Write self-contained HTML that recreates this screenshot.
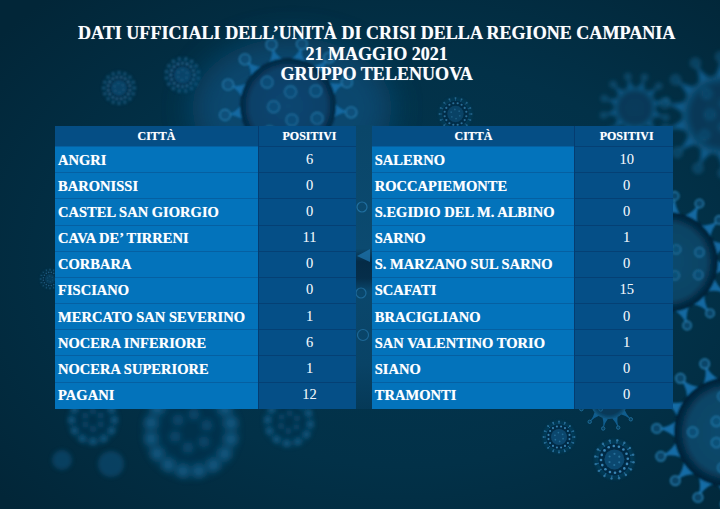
<!DOCTYPE html>
<html><head><meta charset="utf-8">
<style>
html,body{margin:0;padding:0;overflow:hidden;}
html{width:720px;height:509px;}
body{width:720px;height:509px;overflow:hidden;position:relative;background:#03304a;font-family:"Liberation Serif",serif;color:#fff;}
#bg{position:absolute;left:0;top:0;}
.title{position:absolute;left:33.3px;top:23.3px;width:686.7px;text-align:center;font-weight:bold;font-size:18.07px;line-height:20.6px;white-space:nowrap;color:#fdfeff;}
.title div{height:20.6px;}
.f,.l,.v,.h,.c,.n{position:absolute;}
.h,.c,.title{text-shadow:0 0 0.7px rgba(255,255,255,0.55);}
.n{text-shadow:0 0 0.6px rgba(255,255,255,0.35);}
.hd{background:#054e85;}
.ct{background:#0373bb;}
.nm{background:#054f87;}
.l{height:1px;}
.lc{background:#0560a2;}
.ln{background:#054074;}
.v{width:1px;background:#053c70;}
.h{height:21px;line-height:21.6px;text-align:center;font-weight:bold;font-size:12px;white-space:nowrap;}
.c{height:26px;line-height:26.2px;font-weight:bold;font-size:14.55px;white-space:nowrap;}
.n{width:80px;height:26px;line-height:24.0px;text-align:center;font-size:14.5px;white-space:nowrap;color:#eef4fa;}
</style></head><body>
<svg id="bg" width="720" height="509" viewBox="0 0 720 509"><defs>
<filter id="b1" x="-50%" y="-50%" width="200%" height="200%"><feGaussianBlur stdDeviation="0.5"/></filter>
<filter id="b2" x="-50%" y="-50%" width="200%" height="200%"><feGaussianBlur stdDeviation="1.0"/></filter>
<filter id="b3" x="-50%" y="-50%" width="200%" height="200%"><feGaussianBlur stdDeviation="1.5"/></filter>
<filter id="b4" x="-50%" y="-50%" width="200%" height="200%"><feGaussianBlur stdDeviation="2.0"/></filter>
<filter id="b6" x="-50%" y="-50%" width="200%" height="200%"><feGaussianBlur stdDeviation="3.0"/></filter>
<filter id="b8" x="-50%" y="-50%" width="200%" height="200%"><feGaussianBlur stdDeviation="4.0"/></filter>
<filter id="b12" x="-50%" y="-50%" width="200%" height="200%"><feGaussianBlur stdDeviation="6.0"/></filter>
<filter id="b20" x="-50%" y="-50%" width="200%" height="200%"><feGaussianBlur stdDeviation="10.0"/></filter>
<filter id="b30" x="-50%" y="-50%" width="200%" height="200%"><feGaussianBlur stdDeviation="15.0"/></filter>
<filter id="b40" x="-50%" y="-50%" width="200%" height="200%"><feGaussianBlur stdDeviation="20.0"/></filter>
<radialGradient id="bgg" cx="56%" cy="52%" r="72%"><stop offset="0" stop-color="#03364f"/><stop offset="0.55" stop-color="#023148"/><stop offset="1" stop-color="#022638"/></radialGradient>
<radialGradient id="g1" cx="50%" cy="50%" r="50%"><stop offset="0" stop-color="#0b4672"/><stop offset="0.78" stop-color="#0a4068"/><stop offset="0.9" stop-color="#062c4a"/><stop offset="1" stop-color="#042238"/></radialGradient>
<radialGradient id="g2" cx="50%" cy="50%" r="50%"><stop offset="0" stop-color="#0b4166"/><stop offset="0.75" stop-color="#0a3d60"/><stop offset="0.95" stop-color="#145f8e"/><stop offset="1" stop-color="#1a6c9e"/></radialGradient>
<radialGradient id="g3" cx="50%" cy="50%" r="50%"><stop offset="0" stop-color="#0b4e72"/><stop offset="0.75" stop-color="#0a4668"/><stop offset="0.9" stop-color="#052a44"/><stop offset="1" stop-color="#031e33"/></radialGradient>
<radialGradient id="g4" cx="50%" cy="50%" r="50%"><stop offset="0" stop-color="#073250"/><stop offset="0.8" stop-color="#062c48"/><stop offset="0.94" stop-color="#052640"/><stop offset="1" stop-color="#11507a"/></radialGradient>
<linearGradient id="gap" x1="0" y1="0" x2="0" y2="1"><stop offset="0.08" stop-color="#0a4669"/><stop offset="0.45" stop-color="#0b4a70"/><stop offset="0.49" stop-color="#052b46"/><stop offset="0.54" stop-color="#062e4a"/><stop offset="0.58" stop-color="#0a476c"/><stop offset="0.8" stop-color="#094366"/><stop offset="0.94" stop-color="#053957"/></linearGradient>
</defs>
<rect width="720" height="509" fill="url(#bgg)"/>
<g opacity="0.7" filter="url(#b2)"><circle cx="119" cy="88" r="16.5" fill="#0f5682" opacity="0.35" filter="url(#b3)"/><line x1="131.9" y1="88.0" x2="135.0" y2="88.0" stroke="#2d7fb3" stroke-width="0.99" opacity="0.7"/><circle cx="135.0" cy="88.0" r="0.99" fill="#3f8fc2" opacity="0.7"/><line x1="130.9" y1="92.9" x2="133.8" y2="94.1" stroke="#2d7fb3" stroke-width="0.99" opacity="0.7"/><circle cx="133.8" cy="94.1" r="0.99" fill="#3f8fc2" opacity="0.7"/><line x1="128.1" y1="97.1" x2="130.3" y2="99.3" stroke="#2d7fb3" stroke-width="0.99" opacity="0.7"/><circle cx="130.3" cy="99.3" r="0.99" fill="#3f8fc2" opacity="0.7"/><line x1="123.9" y1="99.9" x2="125.1" y2="102.8" stroke="#2d7fb3" stroke-width="0.99" opacity="0.7"/><circle cx="125.1" cy="102.8" r="0.99" fill="#3f8fc2" opacity="0.7"/><line x1="119.0" y1="100.9" x2="119.0" y2="104.0" stroke="#2d7fb3" stroke-width="0.99" opacity="0.7"/><circle cx="119.0" cy="104.0" r="0.99" fill="#3f8fc2" opacity="0.7"/><line x1="114.1" y1="99.9" x2="112.9" y2="102.8" stroke="#2d7fb3" stroke-width="0.99" opacity="0.7"/><circle cx="112.9" cy="102.8" r="0.99" fill="#3f8fc2" opacity="0.7"/><line x1="109.9" y1="97.1" x2="107.7" y2="99.3" stroke="#2d7fb3" stroke-width="0.99" opacity="0.7"/><circle cx="107.7" cy="99.3" r="0.99" fill="#3f8fc2" opacity="0.7"/><line x1="107.1" y1="92.9" x2="104.2" y2="94.1" stroke="#2d7fb3" stroke-width="0.99" opacity="0.7"/><circle cx="104.2" cy="94.1" r="0.99" fill="#3f8fc2" opacity="0.7"/><line x1="106.1" y1="88.0" x2="103.0" y2="88.0" stroke="#2d7fb3" stroke-width="0.99" opacity="0.7"/><circle cx="103.0" cy="88.0" r="0.99" fill="#3f8fc2" opacity="0.7"/><line x1="107.1" y1="83.1" x2="104.2" y2="81.9" stroke="#2d7fb3" stroke-width="0.99" opacity="0.7"/><circle cx="104.2" cy="81.9" r="0.99" fill="#3f8fc2" opacity="0.7"/><line x1="109.9" y1="78.9" x2="107.7" y2="76.7" stroke="#2d7fb3" stroke-width="0.99" opacity="0.7"/><circle cx="107.7" cy="76.7" r="0.99" fill="#3f8fc2" opacity="0.7"/><line x1="114.1" y1="76.1" x2="112.9" y2="73.2" stroke="#2d7fb3" stroke-width="0.99" opacity="0.7"/><circle cx="112.9" cy="73.2" r="0.99" fill="#3f8fc2" opacity="0.7"/><line x1="119.0" y1="75.1" x2="119.0" y2="72.0" stroke="#2d7fb3" stroke-width="0.99" opacity="0.7"/><circle cx="119.0" cy="72.0" r="0.99" fill="#3f8fc2" opacity="0.7"/><line x1="123.9" y1="76.1" x2="125.1" y2="73.2" stroke="#2d7fb3" stroke-width="0.99" opacity="0.7"/><circle cx="125.1" cy="73.2" r="0.99" fill="#3f8fc2" opacity="0.7"/><line x1="128.1" y1="78.9" x2="130.3" y2="76.7" stroke="#2d7fb3" stroke-width="0.99" opacity="0.7"/><circle cx="130.3" cy="76.7" r="0.99" fill="#3f8fc2" opacity="0.7"/><line x1="130.9" y1="83.1" x2="133.8" y2="81.9" stroke="#2d7fb3" stroke-width="0.99" opacity="0.7"/><circle cx="133.8" cy="81.9" r="0.99" fill="#3f8fc2" opacity="0.7"/><circle cx="119" cy="88" r="13.2" fill="#052c47"/><circle cx="119" cy="88" r="8.2" fill="#0c4c74"/><circle cx="129.8" cy="90.2" r="1.07" fill="#3f8fc2"/><circle cx="128.2" cy="94.1" r="1.07" fill="#3f8fc2"/><circle cx="125.1" cy="97.2" r="1.07" fill="#3f8fc2"/><circle cx="121.2" cy="98.8" r="1.07" fill="#3f8fc2"/><circle cx="116.8" cy="98.8" r="1.07" fill="#3f8fc2"/><circle cx="112.9" cy="97.2" r="1.07" fill="#3f8fc2"/><circle cx="109.8" cy="94.1" r="1.07" fill="#3f8fc2"/><circle cx="108.2" cy="90.2" r="1.07" fill="#3f8fc2"/><circle cx="108.2" cy="85.8" r="1.07" fill="#3f8fc2"/><circle cx="109.8" cy="81.9" r="1.07" fill="#3f8fc2"/><circle cx="112.9" cy="78.8" r="1.07" fill="#3f8fc2"/><circle cx="116.8" cy="77.2" r="1.07" fill="#3f8fc2"/><circle cx="121.2" cy="77.2" r="1.07" fill="#3f8fc2"/><circle cx="125.1" cy="78.8" r="1.07" fill="#3f8fc2"/><circle cx="128.2" cy="81.9" r="1.07" fill="#3f8fc2"/><circle cx="129.8" cy="85.8" r="1.07" fill="#3f8fc2"/><circle cx="123.3" cy="89.8" r="0.91" fill="#3f8fc2" opacity="0.6"/><circle cx="119.6" cy="92.6" r="0.91" fill="#3f8fc2" opacity="0.6"/><circle cx="115.3" cy="90.8" r="0.91" fill="#3f8fc2" opacity="0.6"/><circle cx="114.7" cy="86.2" r="0.91" fill="#3f8fc2" opacity="0.6"/><circle cx="118.4" cy="83.4" r="0.91" fill="#3f8fc2" opacity="0.6"/><circle cx="122.7" cy="85.2" r="0.91" fill="#3f8fc2" opacity="0.6"/></g>
<g opacity="0.75" filter="url(#b2)"><circle cx="182.5" cy="75" r="17.5" fill="#0f5682" opacity="0.35" filter="url(#b3)"/><line x1="195.9" y1="77.7" x2="199.1" y2="78.4" stroke="#2d7fb3" stroke-width="1.05" opacity="0.7"/><circle cx="199.1" cy="78.4" r="1.05" fill="#3f8fc2" opacity="0.7"/><line x1="193.8" y1="82.6" x2="196.6" y2="84.5" stroke="#2d7fb3" stroke-width="1.05" opacity="0.7"/><circle cx="196.6" cy="84.5" r="1.05" fill="#3f8fc2" opacity="0.7"/><line x1="190.0" y1="86.4" x2="191.9" y2="89.1" stroke="#2d7fb3" stroke-width="1.05" opacity="0.7"/><circle cx="191.9" cy="89.1" r="1.05" fill="#3f8fc2" opacity="0.7"/><line x1="185.1" y1="88.4" x2="185.8" y2="91.7" stroke="#2d7fb3" stroke-width="1.05" opacity="0.7"/><circle cx="185.8" cy="91.7" r="1.05" fill="#3f8fc2" opacity="0.7"/><line x1="179.8" y1="88.4" x2="179.1" y2="91.6" stroke="#2d7fb3" stroke-width="1.05" opacity="0.7"/><circle cx="179.1" cy="91.6" r="1.05" fill="#3f8fc2" opacity="0.7"/><line x1="174.9" y1="86.3" x2="173.0" y2="89.1" stroke="#2d7fb3" stroke-width="1.05" opacity="0.7"/><circle cx="173.0" cy="89.1" r="1.05" fill="#3f8fc2" opacity="0.7"/><line x1="171.1" y1="82.5" x2="168.4" y2="84.4" stroke="#2d7fb3" stroke-width="1.05" opacity="0.7"/><circle cx="168.4" cy="84.4" r="1.05" fill="#3f8fc2" opacity="0.7"/><line x1="169.1" y1="77.6" x2="165.8" y2="78.3" stroke="#2d7fb3" stroke-width="1.05" opacity="0.7"/><circle cx="165.8" cy="78.3" r="1.05" fill="#3f8fc2" opacity="0.7"/><line x1="169.1" y1="72.3" x2="165.9" y2="71.6" stroke="#2d7fb3" stroke-width="1.05" opacity="0.7"/><circle cx="165.9" cy="71.6" r="1.05" fill="#3f8fc2" opacity="0.7"/><line x1="171.2" y1="67.4" x2="168.4" y2="65.5" stroke="#2d7fb3" stroke-width="1.05" opacity="0.7"/><circle cx="168.4" cy="65.5" r="1.05" fill="#3f8fc2" opacity="0.7"/><line x1="175.0" y1="63.6" x2="173.1" y2="60.9" stroke="#2d7fb3" stroke-width="1.05" opacity="0.7"/><circle cx="173.1" cy="60.9" r="1.05" fill="#3f8fc2" opacity="0.7"/><line x1="179.9" y1="61.6" x2="179.2" y2="58.3" stroke="#2d7fb3" stroke-width="1.05" opacity="0.7"/><circle cx="179.2" cy="58.3" r="1.05" fill="#3f8fc2" opacity="0.7"/><line x1="185.2" y1="61.6" x2="185.9" y2="58.4" stroke="#2d7fb3" stroke-width="1.05" opacity="0.7"/><circle cx="185.9" cy="58.4" r="1.05" fill="#3f8fc2" opacity="0.7"/><line x1="190.1" y1="63.7" x2="192.0" y2="60.9" stroke="#2d7fb3" stroke-width="1.05" opacity="0.7"/><circle cx="192.0" cy="60.9" r="1.05" fill="#3f8fc2" opacity="0.7"/><line x1="193.9" y1="67.5" x2="196.6" y2="65.6" stroke="#2d7fb3" stroke-width="1.05" opacity="0.7"/><circle cx="196.6" cy="65.6" r="1.05" fill="#3f8fc2" opacity="0.7"/><line x1="195.9" y1="72.4" x2="199.2" y2="71.7" stroke="#2d7fb3" stroke-width="1.05" opacity="0.7"/><circle cx="199.2" cy="71.7" r="1.05" fill="#3f8fc2" opacity="0.7"/><circle cx="182.5" cy="75" r="14.0" fill="#052c47"/><circle cx="182.5" cy="75" r="8.8" fill="#0c4c74"/><circle cx="193.3" cy="79.5" r="1.14" fill="#3f8fc2"/><circle cx="190.8" cy="83.3" r="1.14" fill="#3f8fc2"/><circle cx="186.9" cy="85.8" r="1.14" fill="#3f8fc2"/><circle cx="182.5" cy="86.7" r="1.14" fill="#3f8fc2"/><circle cx="178.0" cy="85.8" r="1.14" fill="#3f8fc2"/><circle cx="174.2" cy="83.3" r="1.14" fill="#3f8fc2"/><circle cx="171.7" cy="79.4" r="1.14" fill="#3f8fc2"/><circle cx="170.8" cy="75.0" r="1.14" fill="#3f8fc2"/><circle cx="171.7" cy="70.5" r="1.14" fill="#3f8fc2"/><circle cx="174.2" cy="66.7" r="1.14" fill="#3f8fc2"/><circle cx="178.1" cy="64.2" r="1.14" fill="#3f8fc2"/><circle cx="182.5" cy="63.3" r="1.14" fill="#3f8fc2"/><circle cx="187.0" cy="64.2" r="1.14" fill="#3f8fc2"/><circle cx="190.8" cy="66.7" r="1.14" fill="#3f8fc2"/><circle cx="193.3" cy="70.6" r="1.14" fill="#3f8fc2"/><circle cx="194.2" cy="75.0" r="1.14" fill="#3f8fc2"/><circle cx="186.5" cy="77.8" r="0.96" fill="#3f8fc2" opacity="0.6"/><circle cx="182.1" cy="79.9" r="0.96" fill="#3f8fc2" opacity="0.6"/><circle cx="178.1" cy="77.1" r="0.96" fill="#3f8fc2" opacity="0.6"/><circle cx="178.5" cy="72.2" r="0.96" fill="#3f8fc2" opacity="0.6"/><circle cx="182.9" cy="70.1" r="0.96" fill="#3f8fc2" opacity="0.6"/><circle cx="186.9" cy="72.9" r="0.96" fill="#3f8fc2" opacity="0.6"/></g>
<ellipse cx="292" cy="108" rx="100" ry="70" fill="#0b4c74" opacity="0.85" filter="url(#b30)"/>
<g opacity="0.85" filter="url(#b2)"><path d="M333.6,117.8 Q340.3,112.8 346.2,112.8 L346.4,110.9 Q340.6,109.7 335.0,103.5 Z" fill="#1670ac"/><circle cx="351.2" cy="112.3" r="5.5" fill="#0e5a88" fill-opacity="0.55" stroke="#2a82b5" stroke-width="1.3"/><path d="M322.9,137.7 Q331.2,136.3 336.3,139.1 L337.4,137.5 Q332.9,133.8 330.8,125.6 Z" fill="#1670ac"/><circle cx="341.0" cy="141.0" r="5.5" fill="#0e5a88" fill-opacity="0.55" stroke="#2a82b5" stroke-width="1.3"/><path d="M304.2,150.2 Q312.1,152.9 315.4,157.7 L317.1,156.8 Q314.8,151.4 316.8,143.3 Z" fill="#1670ac"/><circle cx="318.7" cy="161.6" r="5.5" fill="#0e5a88" fill-opacity="0.55" stroke="#2a82b5" stroke-width="1.3"/><path d="M281.8,152.7 Q287.6,158.8 288.3,164.6 L290.2,164.5 Q290.6,158.7 296.2,152.4 Z" fill="#1670ac"/><circle cx="289.3" cy="169.5" r="5.5" fill="#0e5a88" fill-opacity="0.55" stroke="#2a82b5" stroke-width="1.3"/><path d="M260.8,144.5 Q263.1,152.5 261.0,158.0 L262.7,158.8 Q265.8,153.9 273.7,150.9 Z" fill="#1670ac"/><circle cx="259.7" cy="162.9" r="5.5" fill="#0e5a88" fill-opacity="0.55" stroke="#2a82b5" stroke-width="1.3"/><path d="M246.0,127.4 Q244.3,135.6 239.9,139.5 L241.1,141.0 Q246.1,138.1 254.5,139.1 Z" fill="#1670ac"/><circle cx="236.5" cy="143.2" r="5.5" fill="#0e5a88" fill-opacity="0.55" stroke="#2a82b5" stroke-width="1.3"/><path d="M240.9,105.4 Q235.6,111.9 229.9,113.3 L230.2,115.2 Q236.0,115.0 242.9,119.7 Z" fill="#1670ac"/><circle cx="225.1" cy="115.0" r="5.5" fill="#0e5a88" fill-opacity="0.55" stroke="#2a82b5" stroke-width="1.3"/><path d="M246.5,83.6 Q238.8,86.9 233.1,85.5 L232.5,87.3 Q237.8,89.8 241.7,97.2 Z" fill="#1670ac"/><circle cx="228.1" cy="84.7" r="5.5" fill="#0e5a88" fill-opacity="0.55" stroke="#2a82b5" stroke-width="1.3"/><path d="M261.7,66.9 Q253.3,66.2 249.0,62.3 L247.6,63.6 Q251.1,68.3 251.1,76.7 Z" fill="#1670ac"/><circle cx="244.9" cy="59.3" r="5.5" fill="#0e5a88" fill-opacity="0.55" stroke="#2a82b5" stroke-width="1.3"/><path d="M282.9,59.2 Q275.8,54.7 273.7,49.2 L271.9,49.7 Q272.8,55.5 269.0,62.9 Z" fill="#1670ac"/><circle cx="271.5" cy="44.6" r="5.5" fill="#0e5a88" fill-opacity="0.55" stroke="#2a82b5" stroke-width="1.3"/><path d="M305.2,62.1 Q301.1,54.9 301.8,49.1 L299.9,48.7 Q298.1,54.2 291.2,59.0 Z" fill="#1670ac"/><circle cx="301.9" cy="44.0" r="5.5" fill="#0e5a88" fill-opacity="0.55" stroke="#2a82b5" stroke-width="1.3"/><path d="M323.6,75.2 Q323.3,66.8 326.6,62.0 L325.2,60.7 Q321.0,64.8 312.7,65.9 Z" fill="#1670ac"/><circle cx="329.1" cy="57.6" r="5.5" fill="#0e5a88" fill-opacity="0.55" stroke="#2a82b5" stroke-width="1.3"/><path d="M333.9,95.3 Q337.5,87.7 342.7,85.0 L342.0,83.2 Q336.3,84.8 328.5,81.9 Z" fill="#1670ac"/><circle cx="346.9" cy="82.2" r="5.5" fill="#0e5a88" fill-opacity="0.55" stroke="#2a82b5" stroke-width="1.3"/><circle cx="288" cy="106" r="48" fill="url(#g1)"/><circle cx="317.2" cy="118.3" r="5.8" fill="#0e5a88" fill-opacity="0.6" stroke="#2a82b5" stroke-width="1.3" opacity="0.8"/><circle cx="291.9" cy="119.9" r="5.8" fill="#0e5a88" fill-opacity="0.6" stroke="#2a82b5" stroke-width="1.3" opacity="0.8"/><circle cx="269.5" cy="131.7" r="5.8" fill="#0e5a88" fill-opacity="0.6" stroke="#2a82b5" stroke-width="1.3" opacity="0.8"/><circle cx="273.6" cy="106.7" r="5.8" fill="#0e5a88" fill-opacity="0.6" stroke="#2a82b5" stroke-width="1.3" opacity="0.8"/><circle cx="267.1" cy="82.2" r="5.8" fill="#0e5a88" fill-opacity="0.6" stroke="#2a82b5" stroke-width="1.3" opacity="0.8"/><circle cx="290.5" cy="91.8" r="5.8" fill="#0e5a88" fill-opacity="0.6" stroke="#2a82b5" stroke-width="1.3" opacity="0.8"/><circle cx="315.8" cy="90.9" r="5.8" fill="#0e5a88" fill-opacity="0.6" stroke="#2a82b5" stroke-width="1.3" opacity="0.8"/></g>
<g opacity="0.65" filter="url(#b1)"><circle cx="455.5" cy="114" r="16.5" fill="#0f5682" opacity="0.35" filter="url(#b3)"/><line x1="468.4" y1="114.0" x2="471.5" y2="114.0" stroke="#2d7fb3" stroke-width="0.99" opacity="0.7"/><circle cx="471.5" cy="114.0" r="0.99" fill="#3f8fc2" opacity="0.7"/><line x1="467.4" y1="118.9" x2="470.3" y2="120.1" stroke="#2d7fb3" stroke-width="0.99" opacity="0.7"/><circle cx="470.3" cy="120.1" r="0.99" fill="#3f8fc2" opacity="0.7"/><line x1="464.6" y1="123.1" x2="466.8" y2="125.3" stroke="#2d7fb3" stroke-width="0.99" opacity="0.7"/><circle cx="466.8" cy="125.3" r="0.99" fill="#3f8fc2" opacity="0.7"/><line x1="460.4" y1="125.9" x2="461.6" y2="128.8" stroke="#2d7fb3" stroke-width="0.99" opacity="0.7"/><circle cx="461.6" cy="128.8" r="0.99" fill="#3f8fc2" opacity="0.7"/><line x1="455.5" y1="126.9" x2="455.5" y2="130.0" stroke="#2d7fb3" stroke-width="0.99" opacity="0.7"/><circle cx="455.5" cy="130.0" r="0.99" fill="#3f8fc2" opacity="0.7"/><line x1="450.6" y1="125.9" x2="449.4" y2="128.8" stroke="#2d7fb3" stroke-width="0.99" opacity="0.7"/><circle cx="449.4" cy="128.8" r="0.99" fill="#3f8fc2" opacity="0.7"/><line x1="446.4" y1="123.1" x2="444.2" y2="125.3" stroke="#2d7fb3" stroke-width="0.99" opacity="0.7"/><circle cx="444.2" cy="125.3" r="0.99" fill="#3f8fc2" opacity="0.7"/><line x1="443.6" y1="118.9" x2="440.7" y2="120.1" stroke="#2d7fb3" stroke-width="0.99" opacity="0.7"/><circle cx="440.7" cy="120.1" r="0.99" fill="#3f8fc2" opacity="0.7"/><line x1="442.6" y1="114.0" x2="439.5" y2="114.0" stroke="#2d7fb3" stroke-width="0.99" opacity="0.7"/><circle cx="439.5" cy="114.0" r="0.99" fill="#3f8fc2" opacity="0.7"/><line x1="443.6" y1="109.1" x2="440.7" y2="107.9" stroke="#2d7fb3" stroke-width="0.99" opacity="0.7"/><circle cx="440.7" cy="107.9" r="0.99" fill="#3f8fc2" opacity="0.7"/><line x1="446.4" y1="104.9" x2="444.2" y2="102.7" stroke="#2d7fb3" stroke-width="0.99" opacity="0.7"/><circle cx="444.2" cy="102.7" r="0.99" fill="#3f8fc2" opacity="0.7"/><line x1="450.6" y1="102.1" x2="449.4" y2="99.2" stroke="#2d7fb3" stroke-width="0.99" opacity="0.7"/><circle cx="449.4" cy="99.2" r="0.99" fill="#3f8fc2" opacity="0.7"/><line x1="455.5" y1="101.1" x2="455.5" y2="98.0" stroke="#2d7fb3" stroke-width="0.99" opacity="0.7"/><circle cx="455.5" cy="98.0" r="0.99" fill="#3f8fc2" opacity="0.7"/><line x1="460.4" y1="102.1" x2="461.6" y2="99.2" stroke="#2d7fb3" stroke-width="0.99" opacity="0.7"/><circle cx="461.6" cy="99.2" r="0.99" fill="#3f8fc2" opacity="0.7"/><line x1="464.6" y1="104.9" x2="466.8" y2="102.7" stroke="#2d7fb3" stroke-width="0.99" opacity="0.7"/><circle cx="466.8" cy="102.7" r="0.99" fill="#3f8fc2" opacity="0.7"/><line x1="467.4" y1="109.1" x2="470.3" y2="107.9" stroke="#2d7fb3" stroke-width="0.99" opacity="0.7"/><circle cx="470.3" cy="107.9" r="0.99" fill="#3f8fc2" opacity="0.7"/><circle cx="455.5" cy="114" r="13.2" fill="#052c47"/><circle cx="455.5" cy="114" r="8.2" fill="#0c4c74"/><circle cx="466.3" cy="116.2" r="1.07" fill="#3f8fc2"/><circle cx="464.7" cy="120.1" r="1.07" fill="#3f8fc2"/><circle cx="461.6" cy="123.2" r="1.07" fill="#3f8fc2"/><circle cx="457.7" cy="124.8" r="1.07" fill="#3f8fc2"/><circle cx="453.3" cy="124.8" r="1.07" fill="#3f8fc2"/><circle cx="449.4" cy="123.2" r="1.07" fill="#3f8fc2"/><circle cx="446.3" cy="120.1" r="1.07" fill="#3f8fc2"/><circle cx="444.7" cy="116.2" r="1.07" fill="#3f8fc2"/><circle cx="444.7" cy="111.8" r="1.07" fill="#3f8fc2"/><circle cx="446.3" cy="107.9" r="1.07" fill="#3f8fc2"/><circle cx="449.4" cy="104.8" r="1.07" fill="#3f8fc2"/><circle cx="453.3" cy="103.2" r="1.07" fill="#3f8fc2"/><circle cx="457.7" cy="103.2" r="1.07" fill="#3f8fc2"/><circle cx="461.6" cy="104.8" r="1.07" fill="#3f8fc2"/><circle cx="464.7" cy="107.9" r="1.07" fill="#3f8fc2"/><circle cx="466.3" cy="111.8" r="1.07" fill="#3f8fc2"/><circle cx="459.8" cy="115.8" r="0.91" fill="#3f8fc2" opacity="0.6"/><circle cx="456.1" cy="118.6" r="0.91" fill="#3f8fc2" opacity="0.6"/><circle cx="451.8" cy="116.8" r="0.91" fill="#3f8fc2" opacity="0.6"/><circle cx="451.2" cy="112.2" r="0.91" fill="#3f8fc2" opacity="0.6"/><circle cx="454.9" cy="109.4" r="0.91" fill="#3f8fc2" opacity="0.6"/><circle cx="459.2" cy="111.2" r="0.91" fill="#3f8fc2" opacity="0.6"/></g>
<g opacity="0.7" filter="url(#b4)"><path d="M653.5,117.0 Q658.7,116.0 663.4,117.2 L663.6,116.4 Q659.1,114.7 655.4,111.0 Z" fill="#1670ac"/><circle cx="665.8" cy="117.5" r="2.7" fill="#0e5a88" fill-opacity="0.55" stroke="#2a82b5" stroke-width="1.0"/><path d="M646.5,125.1 Q651.5,126.8 655.0,130.2 L655.6,129.6 Q652.5,125.9 651.2,120.8 Z" fill="#1670ac"/><circle cx="656.9" cy="131.7" r="2.7" fill="#0e5a88" fill-opacity="0.55" stroke="#2a82b5" stroke-width="1.0"/><path d="M636.4,128.6 Q639.9,132.5 641.2,137.2 L642.0,137.0 Q641.2,132.2 642.6,127.2 Z" fill="#1670ac"/><circle cx="642.2" cy="139.5" r="2.7" fill="#0e5a88" fill-opacity="0.55" stroke="#2a82b5" stroke-width="1.0"/><path d="M626.0,126.5 Q627.0,131.7 625.8,136.4 L626.6,136.6 Q628.3,132.1 632.0,128.4 Z" fill="#1670ac"/><circle cx="625.5" cy="138.8" r="2.7" fill="#0e5a88" fill-opacity="0.55" stroke="#2a82b5" stroke-width="1.0"/><path d="M617.9,119.5 Q616.2,124.5 612.8,128.0 L613.4,128.6 Q617.1,125.5 622.2,124.2 Z" fill="#1670ac"/><circle cx="611.3" cy="129.9" r="2.7" fill="#0e5a88" fill-opacity="0.55" stroke="#2a82b5" stroke-width="1.0"/><path d="M614.4,109.4 Q610.5,112.9 605.8,114.2 L606.0,115.0 Q610.8,114.2 615.8,115.6 Z" fill="#1670ac"/><circle cx="603.5" cy="115.2" r="2.7" fill="#0e5a88" fill-opacity="0.55" stroke="#2a82b5" stroke-width="1.0"/><path d="M616.5,99.0 Q611.3,100.0 606.6,98.8 L606.4,99.6 Q610.9,101.3 614.6,105.0 Z" fill="#1670ac"/><circle cx="604.2" cy="98.5" r="2.7" fill="#0e5a88" fill-opacity="0.55" stroke="#2a82b5" stroke-width="1.0"/><path d="M623.5,90.9 Q618.5,89.2 615.0,85.8 L614.4,86.4 Q617.5,90.1 618.8,95.2 Z" fill="#1670ac"/><circle cx="613.1" cy="84.3" r="2.7" fill="#0e5a88" fill-opacity="0.55" stroke="#2a82b5" stroke-width="1.0"/><path d="M633.6,87.4 Q630.1,83.5 628.8,78.8 L628.0,79.0 Q628.8,83.8 627.4,88.8 Z" fill="#1670ac"/><circle cx="627.8" cy="76.5" r="2.7" fill="#0e5a88" fill-opacity="0.55" stroke="#2a82b5" stroke-width="1.0"/><path d="M644.0,89.5 Q643.0,84.3 644.2,79.6 L643.4,79.4 Q641.7,83.9 638.0,87.6 Z" fill="#1670ac"/><circle cx="644.5" cy="77.2" r="2.7" fill="#0e5a88" fill-opacity="0.55" stroke="#2a82b5" stroke-width="1.0"/><path d="M652.1,96.5 Q653.8,91.5 657.2,88.0 L656.6,87.4 Q652.9,90.5 647.8,91.8 Z" fill="#1670ac"/><circle cx="658.7" cy="86.1" r="2.7" fill="#0e5a88" fill-opacity="0.55" stroke="#2a82b5" stroke-width="1.0"/><path d="M655.6,106.6 Q659.5,103.1 664.2,101.8 L664.0,101.0 Q659.2,101.8 654.2,100.4 Z" fill="#1670ac"/><circle cx="666.5" cy="100.8" r="2.7" fill="#0e5a88" fill-opacity="0.55" stroke="#2a82b5" stroke-width="1.0"/><circle cx="635" cy="108" r="21" fill="url(#g2)"/></g>
<g opacity="0.7" filter="url(#b4)"><path d="M758.8,128.6 Q767.3,125.5 775.2,126.6 L775.5,125.0 Q767.8,123.0 761.2,116.8 Z" fill="#1670ac"/><circle cx="779.2" cy="126.6" r="4.4" fill="#0e5a88" fill-opacity="0.55" stroke="#2a82b5" stroke-width="1.1"/><path d="M749.3,143.2 Q758.3,144.1 764.9,148.5 L765.8,147.2 Q759.8,142.1 756.5,133.7 Z" fill="#1670ac"/><circle cx="768.5" cy="150.3" r="4.4" fill="#0e5a88" fill-opacity="0.55" stroke="#2a82b5" stroke-width="1.1"/><path d="M734.3,152.3 Q742.0,157.0 746.1,163.8 L747.5,163.1 Q744.3,155.8 745.0,146.8 Z" fill="#1670ac"/><circle cx="748.6" cy="166.9" r="4.4" fill="#0e5a88" fill-opacity="0.55" stroke="#2a82b5" stroke-width="1.1"/><path d="M716.9,153.9 Q721.9,161.5 722.5,169.4 L724.1,169.4 Q724.4,161.4 728.9,153.6 Z" fill="#1670ac"/><circle cx="723.4" cy="173.3" r="4.4" fill="#0e5a88" fill-opacity="0.55" stroke="#2a82b5" stroke-width="1.1"/><path d="M700.6,147.9 Q701.7,156.8 698.9,164.2 L700.3,164.9 Q704.0,157.9 711.5,152.8 Z" fill="#1670ac"/><circle cx="698.0" cy="168.2" r="4.4" fill="#0e5a88" fill-opacity="0.55" stroke="#2a82b5" stroke-width="1.1"/><path d="M688.4,135.3 Q685.6,143.9 679.8,149.3 L680.8,150.6 Q687.2,145.8 696.1,144.5 Z" fill="#1670ac"/><circle cx="677.3" cy="152.5" r="4.4" fill="#0e5a88" fill-opacity="0.55" stroke="#2a82b5" stroke-width="1.1"/><path d="M682.9,118.7 Q676.6,125.2 669.1,127.6 L669.5,129.2 Q677.3,127.7 685.9,130.4 Z" fill="#1670ac"/><circle cx="665.4" cy="129.4" r="4.4" fill="#0e5a88" fill-opacity="0.55" stroke="#2a82b5" stroke-width="1.1"/><path d="M685.2,101.4 Q676.7,104.5 668.8,103.4 L668.5,105.0 Q676.2,107.0 682.8,113.2 Z" fill="#1670ac"/><circle cx="664.8" cy="103.4" r="4.4" fill="#0e5a88" fill-opacity="0.55" stroke="#2a82b5" stroke-width="1.1"/><path d="M694.7,86.8 Q685.7,85.9 679.1,81.5 L678.2,82.8 Q684.2,87.9 687.5,96.3 Z" fill="#1670ac"/><circle cx="675.5" cy="79.7" r="4.4" fill="#0e5a88" fill-opacity="0.55" stroke="#2a82b5" stroke-width="1.1"/><path d="M709.7,77.7 Q702.0,73.0 697.9,66.2 L696.5,66.9 Q699.7,74.2 699.0,83.2 Z" fill="#1670ac"/><circle cx="695.4" cy="63.1" r="4.4" fill="#0e5a88" fill-opacity="0.55" stroke="#2a82b5" stroke-width="1.1"/><path d="M727.1,76.1 Q722.1,68.5 721.5,60.6 L719.9,60.6 Q719.6,68.6 715.1,76.4 Z" fill="#1670ac"/><circle cx="720.6" cy="56.7" r="4.4" fill="#0e5a88" fill-opacity="0.55" stroke="#2a82b5" stroke-width="1.1"/><path d="M743.4,82.1 Q742.3,73.2 745.1,65.8 L743.7,65.1 Q740.0,72.1 732.5,77.2 Z" fill="#1670ac"/><circle cx="746.0" cy="61.8" r="4.4" fill="#0e5a88" fill-opacity="0.55" stroke="#2a82b5" stroke-width="1.1"/><path d="M755.6,94.7 Q758.4,86.1 764.2,80.7 L763.2,79.4 Q756.8,84.2 747.9,85.5 Z" fill="#1670ac"/><circle cx="766.7" cy="77.5" r="4.4" fill="#0e5a88" fill-opacity="0.55" stroke="#2a82b5" stroke-width="1.1"/><path d="M761.1,111.3 Q767.4,104.8 774.9,102.4 L774.5,100.8 Q766.7,102.3 758.1,99.6 Z" fill="#1670ac"/><circle cx="778.6" cy="100.6" r="4.4" fill="#0e5a88" fill-opacity="0.55" stroke="#2a82b5" stroke-width="1.1"/><circle cx="722" cy="115" r="40" fill="url(#g2)"/><circle cx="745.2" cy="127.7" r="4.6" fill="#0e5a88" fill-opacity="0.6" stroke="#2a82b5" stroke-width="1.1" opacity="0.8"/><circle cx="724.1" cy="126.8" r="4.6" fill="#0e5a88" fill-opacity="0.6" stroke="#2a82b5" stroke-width="1.1" opacity="0.8"/><circle cx="704.5" cy="134.8" r="4.6" fill="#0e5a88" fill-opacity="0.6" stroke="#2a82b5" stroke-width="1.1" opacity="0.8"/><circle cx="710.0" cy="114.4" r="4.6" fill="#0e5a88" fill-opacity="0.6" stroke="#2a82b5" stroke-width="1.1" opacity="0.8"/><circle cx="706.6" cy="93.5" r="4.6" fill="#0e5a88" fill-opacity="0.6" stroke="#2a82b5" stroke-width="1.1" opacity="0.8"/><circle cx="725.3" cy="103.5" r="4.6" fill="#0e5a88" fill-opacity="0.6" stroke="#2a82b5" stroke-width="1.1" opacity="0.8"/><circle cx="746.3" cy="104.8" r="4.6" fill="#0e5a88" fill-opacity="0.6" stroke="#2a82b5" stroke-width="1.1" opacity="0.8"/></g>
<clipPath id="gapc"><rect x="354" y="125" width="20" height="284"/></clipPath>
<g clip-path="url(#gapc)"><rect x="340" y="100" width="48" height="330" fill="url(#gap)"/></g>
<circle cx="362" cy="207" r="5" fill="none" stroke="#2a7fb5" stroke-width="1.2" opacity="0.7"/>
<polygon points="357,256 370,249 370,262" fill="#1d70a8" opacity="0.8"/>
<circle cx="361" cy="293" r="5" fill="none" stroke="#2a7fb5" stroke-width="1.2" opacity="0.6"/>
<circle cx="363" cy="335" r="5.5" fill="none" stroke="#2a7fb5" stroke-width="1.2" opacity="0.6"/>
<g opacity="0.9" filter="url(#b2)"><path d="M715.5,274.3 Q723.2,269.1 730.1,269.2 L730.3,267.2 Q723.5,266.0 717.0,259.4 Z" fill="#1670ac"/><circle cx="734.0" cy="268.6" r="4.2" fill="#0e5a88" fill-opacity="0.55" stroke="#2a82b5" stroke-width="1.4"/><path d="M707.2,291.5 Q716.3,289.7 722.6,292.4 L723.5,290.7 Q717.8,286.9 714.3,278.3 Z" fill="#1670ac"/><circle cx="726.4" cy="293.4" r="4.2" fill="#0e5a88" fill-opacity="0.55" stroke="#2a82b5" stroke-width="1.4"/><path d="M692.9,304.3 Q702.0,306.1 706.8,311.0 L708.3,309.8 Q704.4,304.1 704.5,294.8 Z" fill="#1670ac"/><circle cx="710.0" cy="313.3" r="4.2" fill="#0e5a88" fill-opacity="0.55" stroke="#2a82b5" stroke-width="1.4"/><path d="M674.8,310.6 Q682.5,315.7 685.1,322.1 L687.0,321.6 Q685.6,314.8 689.2,306.3 Z" fill="#1670ac"/><circle cx="687.1" cy="325.5" r="4.2" fill="#0e5a88" fill-opacity="0.55" stroke="#2a82b5" stroke-width="1.4"/><path d="M655.7,309.5 Q660.9,317.2 660.8,324.1 L662.8,324.3 Q664.0,317.5 670.6,311.0 Z" fill="#1670ac"/><circle cx="661.4" cy="328.0" r="4.2" fill="#0e5a88" fill-opacity="0.55" stroke="#2a82b5" stroke-width="1.4"/><path d="M638.5,301.2 Q640.3,310.3 637.6,316.6 L639.3,317.5 Q643.1,311.8 651.7,308.3 Z" fill="#1670ac"/><circle cx="636.6" cy="320.4" r="4.2" fill="#0e5a88" fill-opacity="0.55" stroke="#2a82b5" stroke-width="1.4"/><path d="M625.7,286.9 Q623.9,296.0 619.0,300.8 L620.2,302.3 Q625.9,298.4 635.2,298.5 Z" fill="#1670ac"/><circle cx="616.7" cy="304.0" r="4.2" fill="#0e5a88" fill-opacity="0.55" stroke="#2a82b5" stroke-width="1.4"/><path d="M619.4,268.8 Q614.3,276.5 607.9,279.1 L608.4,281.0 Q615.2,279.6 623.7,283.2 Z" fill="#1670ac"/><circle cx="604.5" cy="281.1" r="4.2" fill="#0e5a88" fill-opacity="0.55" stroke="#2a82b5" stroke-width="1.4"/><path d="M620.5,249.7 Q612.8,254.9 605.9,254.8 L605.7,256.8 Q612.5,258.0 619.0,264.6 Z" fill="#1670ac"/><circle cx="602.0" cy="255.4" r="4.2" fill="#0e5a88" fill-opacity="0.55" stroke="#2a82b5" stroke-width="1.4"/><path d="M628.8,232.5 Q619.7,234.3 613.4,231.6 L612.5,233.3 Q618.2,237.1 621.7,245.7 Z" fill="#1670ac"/><circle cx="609.6" cy="230.6" r="4.2" fill="#0e5a88" fill-opacity="0.55" stroke="#2a82b5" stroke-width="1.4"/><path d="M643.1,219.7 Q634.0,217.9 629.2,213.0 L627.7,214.2 Q631.6,219.9 631.5,229.2 Z" fill="#1670ac"/><circle cx="626.0" cy="210.7" r="4.2" fill="#0e5a88" fill-opacity="0.55" stroke="#2a82b5" stroke-width="1.4"/><path d="M661.2,213.4 Q653.5,208.3 650.9,201.9 L649.0,202.4 Q650.4,209.2 646.8,217.7 Z" fill="#1670ac"/><circle cx="648.9" cy="198.5" r="4.2" fill="#0e5a88" fill-opacity="0.55" stroke="#2a82b5" stroke-width="1.4"/><path d="M680.3,214.5 Q675.1,206.8 675.2,199.9 L673.2,199.7 Q672.0,206.5 665.4,213.0 Z" fill="#1670ac"/><circle cx="674.6" cy="196.0" r="4.2" fill="#0e5a88" fill-opacity="0.55" stroke="#2a82b5" stroke-width="1.4"/><path d="M697.5,222.8 Q695.7,213.7 698.4,207.4 L696.7,206.5 Q692.9,212.2 684.3,215.7 Z" fill="#1670ac"/><circle cx="699.4" cy="203.6" r="4.2" fill="#0e5a88" fill-opacity="0.55" stroke="#2a82b5" stroke-width="1.4"/><path d="M710.3,237.1 Q712.1,228.0 717.0,223.2 L715.8,221.7 Q710.1,225.6 700.8,225.5 Z" fill="#1670ac"/><circle cx="719.3" cy="220.0" r="4.2" fill="#0e5a88" fill-opacity="0.55" stroke="#2a82b5" stroke-width="1.4"/><path d="M716.6,255.2 Q721.7,247.5 728.1,244.9 L727.6,243.0 Q720.8,244.4 712.3,240.8 Z" fill="#1670ac"/><circle cx="731.5" cy="242.9" r="4.2" fill="#0e5a88" fill-opacity="0.55" stroke="#2a82b5" stroke-width="1.4"/><circle cx="668" cy="262" r="50" fill="url(#g3)"/><circle cx="698.4" cy="274.9" r="4.5" fill="#0e5a88" fill-opacity="0.6" stroke="#2a82b5" stroke-width="1.4" opacity="0.8"/><circle cx="674.8" cy="275.4" r="4.5" fill="#0e5a88" fill-opacity="0.6" stroke="#2a82b5" stroke-width="1.4" opacity="0.8"/><circle cx="660.6" cy="294.2" r="4.5" fill="#0e5a88" fill-opacity="0.6" stroke="#2a82b5" stroke-width="1.4" opacity="0.8"/><circle cx="656.0" cy="271.0" r="4.5" fill="#0e5a88" fill-opacity="0.6" stroke="#2a82b5" stroke-width="1.4" opacity="0.8"/><circle cx="635.0" cy="260.3" r="4.5" fill="#0e5a88" fill-opacity="0.6" stroke="#2a82b5" stroke-width="1.4" opacity="0.8"/><circle cx="657.0" cy="251.8" r="4.5" fill="#0e5a88" fill-opacity="0.6" stroke="#2a82b5" stroke-width="1.4" opacity="0.8"/><circle cx="663.9" cy="229.3" r="4.5" fill="#0e5a88" fill-opacity="0.6" stroke="#2a82b5" stroke-width="1.4" opacity="0.8"/><circle cx="676.2" cy="249.4" r="4.5" fill="#0e5a88" fill-opacity="0.6" stroke="#2a82b5" stroke-width="1.4" opacity="0.8"/><circle cx="699.5" cy="252.3" r="4.5" fill="#0e5a88" fill-opacity="0.6" stroke="#2a82b5" stroke-width="1.4" opacity="0.8"/></g>
<g opacity="0.95" filter="url(#b2)"><path d="M781.9,442.9 Q789.8,436.8 797.1,436.5 L797.2,434.3 Q790.0,433.3 782.7,426.4 Z" fill="#1670ac"/><circle cx="801.3" cy="435.6" r="4.7" fill="#0e5a88" fill-opacity="0.55" stroke="#2a82b5" stroke-width="1.5"/><path d="M773.7,462.3 Q783.3,459.7 790.2,462.2 L791.1,460.2 Q784.8,456.5 780.7,447.4 Z" fill="#1670ac"/><circle cx="794.4" cy="463.0" r="4.7" fill="#0e5a88" fill-opacity="0.55" stroke="#2a82b5" stroke-width="1.5"/><path d="M758.7,477.1 Q768.6,478.4 773.9,483.3 L775.6,481.8 Q771.2,476.0 770.9,466.0 Z" fill="#1670ac"/><circle cx="777.6" cy="485.7" r="4.7" fill="#0e5a88" fill-opacity="0.55" stroke="#2a82b5" stroke-width="1.5"/><path d="M739.2,485.0 Q747.8,490.0 750.9,496.6 L753.0,495.9 Q751.1,488.8 754.7,479.5 Z" fill="#1670ac"/><circle cx="753.3" cy="500.2" r="4.7" fill="#0e5a88" fill-opacity="0.55" stroke="#2a82b5" stroke-width="1.5"/><path d="M718.1,484.9 Q724.2,492.8 724.5,500.1 L726.7,500.2 Q727.7,493.0 734.6,485.7 Z" fill="#1670ac"/><circle cx="725.4" cy="504.3" r="4.7" fill="#0e5a88" fill-opacity="0.55" stroke="#2a82b5" stroke-width="1.5"/><path d="M698.7,476.7 Q701.3,486.3 698.8,493.2 L700.8,494.1 Q704.5,487.8 713.6,483.7 Z" fill="#1670ac"/><circle cx="698.0" cy="497.4" r="4.7" fill="#0e5a88" fill-opacity="0.55" stroke="#2a82b5" stroke-width="1.5"/><path d="M683.9,461.7 Q682.6,471.6 677.7,476.9 L679.2,478.6 Q685.0,474.2 695.0,473.9 Z" fill="#1670ac"/><circle cx="675.3" cy="480.6" r="4.7" fill="#0e5a88" fill-opacity="0.55" stroke="#2a82b5" stroke-width="1.5"/><path d="M676.0,442.2 Q671.0,450.8 664.4,453.9 L665.1,456.0 Q672.2,454.1 681.5,457.7 Z" fill="#1670ac"/><circle cx="660.8" cy="456.3" r="4.7" fill="#0e5a88" fill-opacity="0.55" stroke="#2a82b5" stroke-width="1.5"/><path d="M676.1,421.1 Q668.2,427.2 660.9,427.5 L660.8,429.7 Q668.0,430.7 675.3,437.6 Z" fill="#1670ac"/><circle cx="656.7" cy="428.4" r="4.7" fill="#0e5a88" fill-opacity="0.55" stroke="#2a82b5" stroke-width="1.5"/><path d="M684.3,401.7 Q674.7,404.3 667.8,401.8 L666.9,403.8 Q673.2,407.5 677.3,416.6 Z" fill="#1670ac"/><circle cx="663.6" cy="401.0" r="4.7" fill="#0e5a88" fill-opacity="0.55" stroke="#2a82b5" stroke-width="1.5"/><path d="M699.3,386.9 Q689.4,385.6 684.1,380.7 L682.4,382.2 Q686.8,388.0 687.1,398.0 Z" fill="#1670ac"/><circle cx="680.4" cy="378.3" r="4.7" fill="#0e5a88" fill-opacity="0.55" stroke="#2a82b5" stroke-width="1.5"/><path d="M718.8,379.0 Q710.2,374.0 707.1,367.4 L705.0,368.1 Q706.9,375.2 703.3,384.5 Z" fill="#1670ac"/><circle cx="704.7" cy="363.8" r="4.7" fill="#0e5a88" fill-opacity="0.55" stroke="#2a82b5" stroke-width="1.5"/><path d="M739.9,379.1 Q733.8,371.2 733.5,363.9 L731.3,363.8 Q730.3,371.0 723.4,378.3 Z" fill="#1670ac"/><circle cx="732.6" cy="359.7" r="4.7" fill="#0e5a88" fill-opacity="0.55" stroke="#2a82b5" stroke-width="1.5"/><path d="M759.3,387.3 Q756.7,377.7 759.2,370.8 L757.2,369.9 Q753.5,376.2 744.4,380.3 Z" fill="#1670ac"/><circle cx="760.0" cy="366.6" r="4.7" fill="#0e5a88" fill-opacity="0.55" stroke="#2a82b5" stroke-width="1.5"/><path d="M774.1,402.3 Q775.4,392.4 780.3,387.1 L778.8,385.4 Q773.0,389.8 763.0,390.1 Z" fill="#1670ac"/><circle cx="782.7" cy="383.4" r="4.7" fill="#0e5a88" fill-opacity="0.55" stroke="#2a82b5" stroke-width="1.5"/><path d="M782.0,421.8 Q787.0,413.2 793.6,410.1 L792.9,408.0 Q785.8,409.9 776.5,406.3 Z" fill="#1670ac"/><circle cx="797.2" cy="407.7" r="4.7" fill="#0e5a88" fill-opacity="0.55" stroke="#2a82b5" stroke-width="1.5"/><circle cx="729" cy="432" r="55" fill="url(#g3)"/><circle cx="763.1" cy="444.4" r="4.9" fill="#0e5a88" fill-opacity="0.6" stroke="#2a82b5" stroke-width="1.5" opacity="0.8"/><circle cx="737.2" cy="446.3" r="4.9" fill="#0e5a88" fill-opacity="0.6" stroke="#2a82b5" stroke-width="1.5" opacity="0.8"/><circle cx="722.7" cy="467.7" r="4.9" fill="#0e5a88" fill-opacity="0.6" stroke="#2a82b5" stroke-width="1.5" opacity="0.8"/><circle cx="716.4" cy="442.6" r="4.9" fill="#0e5a88" fill-opacity="0.6" stroke="#2a82b5" stroke-width="1.5" opacity="0.8"/><circle cx="692.7" cy="432.0" r="4.9" fill="#0e5a88" fill-opacity="0.6" stroke="#2a82b5" stroke-width="1.5" opacity="0.8"/><circle cx="716.4" cy="421.4" r="4.9" fill="#0e5a88" fill-opacity="0.6" stroke="#2a82b5" stroke-width="1.5" opacity="0.8"/><circle cx="722.7" cy="396.2" r="4.9" fill="#0e5a88" fill-opacity="0.6" stroke="#2a82b5" stroke-width="1.5" opacity="0.8"/><circle cx="737.3" cy="417.7" r="4.9" fill="#0e5a88" fill-opacity="0.6" stroke="#2a82b5" stroke-width="1.5" opacity="0.8"/><circle cx="763.1" cy="419.6" r="4.9" fill="#0e5a88" fill-opacity="0.6" stroke="#2a82b5" stroke-width="1.5" opacity="0.8"/></g>
<g opacity="0.85" filter="url(#b1)"><circle cx="559" cy="437" r="16.0" fill="#0f5682" opacity="0.35" filter="url(#b3)"/><line x1="571.5" y1="437.0" x2="574.5" y2="437.0" stroke="#2d7fb3" stroke-width="0.96" opacity="0.7"/><circle cx="574.5" cy="437.0" r="0.96" fill="#3f8fc2" opacity="0.7"/><line x1="570.5" y1="441.8" x2="573.3" y2="442.9" stroke="#2d7fb3" stroke-width="0.96" opacity="0.7"/><circle cx="573.3" cy="442.9" r="0.96" fill="#3f8fc2" opacity="0.7"/><line x1="567.8" y1="445.8" x2="570.0" y2="448.0" stroke="#2d7fb3" stroke-width="0.96" opacity="0.7"/><circle cx="570.0" cy="448.0" r="0.96" fill="#3f8fc2" opacity="0.7"/><line x1="563.8" y1="448.5" x2="564.9" y2="451.3" stroke="#2d7fb3" stroke-width="0.96" opacity="0.7"/><circle cx="564.9" cy="451.3" r="0.96" fill="#3f8fc2" opacity="0.7"/><line x1="559.0" y1="449.5" x2="559.0" y2="452.5" stroke="#2d7fb3" stroke-width="0.96" opacity="0.7"/><circle cx="559.0" cy="452.5" r="0.96" fill="#3f8fc2" opacity="0.7"/><line x1="554.2" y1="448.5" x2="553.1" y2="451.3" stroke="#2d7fb3" stroke-width="0.96" opacity="0.7"/><circle cx="553.1" cy="451.3" r="0.96" fill="#3f8fc2" opacity="0.7"/><line x1="550.2" y1="445.8" x2="548.0" y2="448.0" stroke="#2d7fb3" stroke-width="0.96" opacity="0.7"/><circle cx="548.0" cy="448.0" r="0.96" fill="#3f8fc2" opacity="0.7"/><line x1="547.5" y1="441.8" x2="544.7" y2="442.9" stroke="#2d7fb3" stroke-width="0.96" opacity="0.7"/><circle cx="544.7" cy="442.9" r="0.96" fill="#3f8fc2" opacity="0.7"/><line x1="546.5" y1="437.0" x2="543.5" y2="437.0" stroke="#2d7fb3" stroke-width="0.96" opacity="0.7"/><circle cx="543.5" cy="437.0" r="0.96" fill="#3f8fc2" opacity="0.7"/><line x1="547.5" y1="432.2" x2="544.7" y2="431.1" stroke="#2d7fb3" stroke-width="0.96" opacity="0.7"/><circle cx="544.7" cy="431.1" r="0.96" fill="#3f8fc2" opacity="0.7"/><line x1="550.2" y1="428.2" x2="548.0" y2="426.0" stroke="#2d7fb3" stroke-width="0.96" opacity="0.7"/><circle cx="548.0" cy="426.0" r="0.96" fill="#3f8fc2" opacity="0.7"/><line x1="554.2" y1="425.5" x2="553.1" y2="422.7" stroke="#2d7fb3" stroke-width="0.96" opacity="0.7"/><circle cx="553.1" cy="422.7" r="0.96" fill="#3f8fc2" opacity="0.7"/><line x1="559.0" y1="424.5" x2="559.0" y2="421.5" stroke="#2d7fb3" stroke-width="0.96" opacity="0.7"/><circle cx="559.0" cy="421.5" r="0.96" fill="#3f8fc2" opacity="0.7"/><line x1="563.8" y1="425.5" x2="564.9" y2="422.7" stroke="#2d7fb3" stroke-width="0.96" opacity="0.7"/><circle cx="564.9" cy="422.7" r="0.96" fill="#3f8fc2" opacity="0.7"/><line x1="567.8" y1="428.2" x2="570.0" y2="426.0" stroke="#2d7fb3" stroke-width="0.96" opacity="0.7"/><circle cx="570.0" cy="426.0" r="0.96" fill="#3f8fc2" opacity="0.7"/><line x1="570.5" y1="432.2" x2="573.3" y2="431.1" stroke="#2d7fb3" stroke-width="0.96" opacity="0.7"/><circle cx="573.3" cy="431.1" r="0.96" fill="#3f8fc2" opacity="0.7"/><circle cx="559" cy="437" r="12.8" fill="#052c47"/><circle cx="559" cy="437" r="8.0" fill="#0c4c74"/><circle cx="569.5" cy="439.1" r="1.04" fill="#3f8fc2"/><circle cx="567.9" cy="443.0" r="1.04" fill="#3f8fc2"/><circle cx="565.0" cy="445.9" r="1.04" fill="#3f8fc2"/><circle cx="561.1" cy="447.5" r="1.04" fill="#3f8fc2"/><circle cx="556.9" cy="447.5" r="1.04" fill="#3f8fc2"/><circle cx="553.0" cy="445.9" r="1.04" fill="#3f8fc2"/><circle cx="550.1" cy="443.0" r="1.04" fill="#3f8fc2"/><circle cx="548.5" cy="439.1" r="1.04" fill="#3f8fc2"/><circle cx="548.5" cy="434.9" r="1.04" fill="#3f8fc2"/><circle cx="550.1" cy="431.0" r="1.04" fill="#3f8fc2"/><circle cx="553.0" cy="428.1" r="1.04" fill="#3f8fc2"/><circle cx="556.9" cy="426.5" r="1.04" fill="#3f8fc2"/><circle cx="561.1" cy="426.5" r="1.04" fill="#3f8fc2"/><circle cx="565.0" cy="428.1" r="1.04" fill="#3f8fc2"/><circle cx="567.9" cy="431.0" r="1.04" fill="#3f8fc2"/><circle cx="569.5" cy="434.9" r="1.04" fill="#3f8fc2"/><circle cx="563.1" cy="438.7" r="0.88" fill="#3f8fc2" opacity="0.6"/><circle cx="559.6" cy="441.4" r="0.88" fill="#3f8fc2" opacity="0.6"/><circle cx="555.4" cy="439.7" r="0.88" fill="#3f8fc2" opacity="0.6"/><circle cx="554.9" cy="435.3" r="0.88" fill="#3f8fc2" opacity="0.6"/><circle cx="558.4" cy="432.6" r="0.88" fill="#3f8fc2" opacity="0.6"/><circle cx="562.6" cy="434.3" r="0.88" fill="#3f8fc2" opacity="0.6"/></g>
<g opacity="0.9" filter="url(#b1)"><circle cx="614.4" cy="459.4" r="20.0" fill="#0f5682" opacity="0.35" filter="url(#b3)"/><line x1="629.8" y1="461.7" x2="633.6" y2="462.3" stroke="#2d7fb3" stroke-width="1.20" opacity="0.7"/><circle cx="633.6" cy="462.3" r="1.20" fill="#3f8fc2" opacity="0.7"/><line x1="627.8" y1="467.5" x2="631.0" y2="469.4" stroke="#2d7fb3" stroke-width="1.20" opacity="0.7"/><circle cx="631.0" cy="469.4" r="1.20" fill="#3f8fc2" opacity="0.7"/><line x1="623.7" y1="472.0" x2="625.9" y2="475.0" stroke="#2d7fb3" stroke-width="1.20" opacity="0.7"/><circle cx="625.9" cy="475.0" r="1.20" fill="#3f8fc2" opacity="0.7"/><line x1="618.1" y1="474.5" x2="619.1" y2="478.2" stroke="#2d7fb3" stroke-width="1.20" opacity="0.7"/><circle cx="619.1" cy="478.2" r="1.20" fill="#3f8fc2" opacity="0.7"/><line x1="612.1" y1="474.8" x2="611.5" y2="478.6" stroke="#2d7fb3" stroke-width="1.20" opacity="0.7"/><circle cx="611.5" cy="478.6" r="1.20" fill="#3f8fc2" opacity="0.7"/><line x1="606.3" y1="472.8" x2="604.4" y2="476.0" stroke="#2d7fb3" stroke-width="1.20" opacity="0.7"/><circle cx="604.4" cy="476.0" r="1.20" fill="#3f8fc2" opacity="0.7"/><line x1="601.8" y1="468.7" x2="598.8" y2="470.9" stroke="#2d7fb3" stroke-width="1.20" opacity="0.7"/><circle cx="598.8" cy="470.9" r="1.20" fill="#3f8fc2" opacity="0.7"/><line x1="599.3" y1="463.1" x2="595.6" y2="464.1" stroke="#2d7fb3" stroke-width="1.20" opacity="0.7"/><circle cx="595.6" cy="464.1" r="1.20" fill="#3f8fc2" opacity="0.7"/><line x1="599.0" y1="457.1" x2="595.2" y2="456.5" stroke="#2d7fb3" stroke-width="1.20" opacity="0.7"/><circle cx="595.2" cy="456.5" r="1.20" fill="#3f8fc2" opacity="0.7"/><line x1="601.0" y1="451.3" x2="597.8" y2="449.4" stroke="#2d7fb3" stroke-width="1.20" opacity="0.7"/><circle cx="597.8" cy="449.4" r="1.20" fill="#3f8fc2" opacity="0.7"/><line x1="605.1" y1="446.8" x2="602.9" y2="443.8" stroke="#2d7fb3" stroke-width="1.20" opacity="0.7"/><circle cx="602.9" cy="443.8" r="1.20" fill="#3f8fc2" opacity="0.7"/><line x1="610.7" y1="444.3" x2="609.7" y2="440.6" stroke="#2d7fb3" stroke-width="1.20" opacity="0.7"/><circle cx="609.7" cy="440.6" r="1.20" fill="#3f8fc2" opacity="0.7"/><line x1="616.7" y1="444.0" x2="617.3" y2="440.2" stroke="#2d7fb3" stroke-width="1.20" opacity="0.7"/><circle cx="617.3" cy="440.2" r="1.20" fill="#3f8fc2" opacity="0.7"/><line x1="622.5" y1="446.0" x2="624.4" y2="442.8" stroke="#2d7fb3" stroke-width="1.20" opacity="0.7"/><circle cx="624.4" cy="442.8" r="1.20" fill="#3f8fc2" opacity="0.7"/><line x1="627.0" y1="450.1" x2="630.0" y2="447.9" stroke="#2d7fb3" stroke-width="1.20" opacity="0.7"/><circle cx="630.0" cy="447.9" r="1.20" fill="#3f8fc2" opacity="0.7"/><line x1="629.5" y1="455.7" x2="633.2" y2="454.7" stroke="#2d7fb3" stroke-width="1.20" opacity="0.7"/><circle cx="633.2" cy="454.7" r="1.20" fill="#3f8fc2" opacity="0.7"/><circle cx="614.4" cy="459.4" r="16.0" fill="#052c47"/><circle cx="614.4" cy="459.4" r="10.0" fill="#0c4c74"/><circle cx="627.0" cy="463.9" r="1.30" fill="#3f8fc2"/><circle cx="624.3" cy="468.4" r="1.30" fill="#3f8fc2"/><circle cx="620.1" cy="471.5" r="1.30" fill="#3f8fc2"/><circle cx="615.0" cy="472.8" r="1.30" fill="#3f8fc2"/><circle cx="609.9" cy="472.0" r="1.30" fill="#3f8fc2"/><circle cx="605.4" cy="469.3" r="1.30" fill="#3f8fc2"/><circle cx="602.3" cy="465.1" r="1.30" fill="#3f8fc2"/><circle cx="601.0" cy="460.0" r="1.30" fill="#3f8fc2"/><circle cx="601.8" cy="454.9" r="1.30" fill="#3f8fc2"/><circle cx="604.5" cy="450.4" r="1.30" fill="#3f8fc2"/><circle cx="608.7" cy="447.3" r="1.30" fill="#3f8fc2"/><circle cx="613.8" cy="446.0" r="1.30" fill="#3f8fc2"/><circle cx="618.9" cy="446.8" r="1.30" fill="#3f8fc2"/><circle cx="623.4" cy="449.5" r="1.30" fill="#3f8fc2"/><circle cx="626.5" cy="453.7" r="1.30" fill="#3f8fc2"/><circle cx="627.8" cy="458.8" r="1.30" fill="#3f8fc2"/><circle cx="619.2" cy="462.3" r="1.10" fill="#3f8fc2" opacity="0.6"/><circle cx="614.3" cy="465.0" r="1.10" fill="#3f8fc2" opacity="0.6"/><circle cx="609.5" cy="462.1" r="1.10" fill="#3f8fc2" opacity="0.6"/><circle cx="609.6" cy="456.5" r="1.10" fill="#3f8fc2" opacity="0.6"/><circle cx="614.5" cy="453.8" r="1.10" fill="#3f8fc2" opacity="0.6"/><circle cx="619.3" cy="456.7" r="1.10" fill="#3f8fc2" opacity="0.6"/></g>
<g opacity="0.7" filter="url(#b1)"><path d="M626.5,406.5 Q631.3,405.1 635.9,405.8 L636.1,405.1 Q631.5,403.9 627.6,400.9 Z" fill="#1670ac"/><circle cx="637.5" cy="405.8" r="1.7" fill="#0e5a88" fill-opacity="0.55" stroke="#2a82b5" stroke-width="1.0"/><path d="M620.9,414.3 Q625.7,415.6 629.4,418.5 L629.9,418.0 Q626.5,414.7 624.7,410.1 Z" fill="#1670ac"/><circle cx="630.8" cy="419.3" r="1.7" fill="#0e5a88" fill-opacity="0.55" stroke="#2a82b5" stroke-width="1.0"/><path d="M612.2,418.4 Q615.7,421.9 617.4,426.2 L618.1,426.0 Q616.8,421.5 617.6,416.6 Z" fill="#1670ac"/><circle cx="618.2" cy="427.6" r="1.7" fill="#0e5a88" fill-opacity="0.55" stroke="#2a82b5" stroke-width="1.0"/><path d="M602.5,417.5 Q603.9,422.3 603.2,426.9 L603.9,427.1 Q605.1,422.5 608.1,418.6 Z" fill="#1670ac"/><circle cx="603.2" cy="428.5" r="1.7" fill="#0e5a88" fill-opacity="0.55" stroke="#2a82b5" stroke-width="1.0"/><path d="M594.7,411.9 Q593.4,416.7 590.5,420.4 L591.0,420.9 Q594.3,417.5 598.9,415.7 Z" fill="#1670ac"/><circle cx="589.7" cy="421.8" r="1.7" fill="#0e5a88" fill-opacity="0.55" stroke="#2a82b5" stroke-width="1.0"/><path d="M590.6,403.2 Q587.1,406.7 582.8,408.4 L583.0,409.1 Q587.5,407.8 592.4,408.6 Z" fill="#1670ac"/><circle cx="581.4" cy="409.2" r="1.7" fill="#0e5a88" fill-opacity="0.55" stroke="#2a82b5" stroke-width="1.0"/><path d="M591.5,393.5 Q586.7,394.9 582.1,394.2 L581.9,394.9 Q586.5,396.1 590.4,399.1 Z" fill="#1670ac"/><circle cx="580.5" cy="394.2" r="1.7" fill="#0e5a88" fill-opacity="0.55" stroke="#2a82b5" stroke-width="1.0"/><path d="M597.1,385.7 Q592.3,384.4 588.6,381.5 L588.1,382.0 Q591.5,385.3 593.3,389.9 Z" fill="#1670ac"/><circle cx="587.2" cy="380.7" r="1.7" fill="#0e5a88" fill-opacity="0.55" stroke="#2a82b5" stroke-width="1.0"/><path d="M605.8,381.6 Q602.3,378.1 600.6,373.8 L599.9,374.0 Q601.2,378.5 600.4,383.4 Z" fill="#1670ac"/><circle cx="599.8" cy="372.4" r="1.7" fill="#0e5a88" fill-opacity="0.55" stroke="#2a82b5" stroke-width="1.0"/><path d="M615.5,382.5 Q614.1,377.7 614.8,373.1 L614.1,372.9 Q612.9,377.5 609.9,381.4 Z" fill="#1670ac"/><circle cx="614.8" cy="371.5" r="1.7" fill="#0e5a88" fill-opacity="0.55" stroke="#2a82b5" stroke-width="1.0"/><path d="M623.3,388.1 Q624.6,383.3 627.5,379.6 L627.0,379.1 Q623.7,382.5 619.1,384.3 Z" fill="#1670ac"/><circle cx="628.3" cy="378.2" r="1.7" fill="#0e5a88" fill-opacity="0.55" stroke="#2a82b5" stroke-width="1.0"/><path d="M627.4,396.8 Q630.9,393.3 635.2,391.6 L635.0,390.9 Q630.5,392.2 625.6,391.4 Z" fill="#1670ac"/><circle cx="636.6" cy="390.8" r="1.7" fill="#0e5a88" fill-opacity="0.55" stroke="#2a82b5" stroke-width="1.0"/><circle cx="609" cy="400" r="19" fill="url(#g2)"/><circle cx="620.0" cy="406.0" r="1.8" fill="#0e5a88" fill-opacity="0.6" stroke="#2a82b5" stroke-width="1.0" opacity="0.8"/><circle cx="610.0" cy="405.6" r="1.8" fill="#0e5a88" fill-opacity="0.6" stroke="#2a82b5" stroke-width="1.0" opacity="0.8"/><circle cx="600.7" cy="409.4" r="1.8" fill="#0e5a88" fill-opacity="0.6" stroke="#2a82b5" stroke-width="1.0" opacity="0.8"/><circle cx="603.3" cy="399.7" r="1.8" fill="#0e5a88" fill-opacity="0.6" stroke="#2a82b5" stroke-width="1.0" opacity="0.8"/><circle cx="601.7" cy="389.8" r="1.8" fill="#0e5a88" fill-opacity="0.6" stroke="#2a82b5" stroke-width="1.0" opacity="0.8"/><circle cx="610.6" cy="394.5" r="1.8" fill="#0e5a88" fill-opacity="0.6" stroke="#2a82b5" stroke-width="1.0" opacity="0.8"/><circle cx="620.6" cy="395.1" r="1.8" fill="#0e5a88" fill-opacity="0.6" stroke="#2a82b5" stroke-width="1.0" opacity="0.8"/></g>
<g opacity="0.75" filter="url(#b4)"><circle cx="93" cy="420" r="25.6" fill="#0b4569" opacity="0.55"/><circle cx="93" cy="420" r="16.7" fill="#06314d"/><circle cx="114.6" cy="420.0" r="3.5" fill="#14608c"/><circle cx="111.7" cy="430.8" r="3.5" fill="#14608c"/><circle cx="103.8" cy="438.7" r="3.5" fill="#14608c"/><circle cx="93.0" cy="441.6" r="3.5" fill="#14608c"/><circle cx="82.2" cy="438.7" r="3.5" fill="#14608c"/><circle cx="74.3" cy="430.8" r="3.5" fill="#14608c"/><circle cx="71.4" cy="420.0" r="3.5" fill="#14608c"/><circle cx="74.3" cy="409.2" r="3.5" fill="#14608c"/><circle cx="82.2" cy="401.3" r="3.5" fill="#14608c"/><circle cx="93.0" cy="398.4" r="3.5" fill="#14608c"/><circle cx="103.8" cy="401.3" r="3.5" fill="#14608c"/><circle cx="111.7" cy="409.2" r="3.5" fill="#14608c"/><circle cx="100.8" cy="424.3" r="2.7" fill="#14608c" opacity="0.7"/><circle cx="93.2" cy="428.9" r="2.7" fill="#14608c" opacity="0.7"/><circle cx="85.4" cy="424.6" r="2.7" fill="#14608c" opacity="0.7"/><circle cx="85.2" cy="415.7" r="2.7" fill="#14608c" opacity="0.7"/><circle cx="92.8" cy="411.1" r="2.7" fill="#14608c" opacity="0.7"/><circle cx="100.6" cy="415.4" r="2.7" fill="#14608c" opacity="0.7"/></g>
<g opacity="0.8" filter="url(#b6)"><circle cx="191" cy="431" r="48.4" fill="#0b4569" opacity="0.55"/><circle cx="191" cy="431" r="31.6" fill="#06314d"/><circle cx="231.0" cy="439.1" r="6.6" fill="#14608c"/><circle cx="224.8" cy="453.8" r="6.6" fill="#14608c"/><circle cx="213.5" cy="465.0" r="6.6" fill="#14608c"/><circle cx="198.8" cy="471.0" r="6.6" fill="#14608c"/><circle cx="182.9" cy="471.0" r="6.6" fill="#14608c"/><circle cx="168.2" cy="464.8" r="6.6" fill="#14608c"/><circle cx="157.0" cy="453.5" r="6.6" fill="#14608c"/><circle cx="151.0" cy="438.8" r="6.6" fill="#14608c"/><circle cx="151.0" cy="422.9" r="6.6" fill="#14608c"/><circle cx="157.2" cy="408.2" r="6.6" fill="#14608c"/><circle cx="168.5" cy="397.0" r="6.6" fill="#14608c"/><circle cx="183.2" cy="391.0" r="6.6" fill="#14608c"/><circle cx="199.1" cy="391.0" r="6.6" fill="#14608c"/><circle cx="213.8" cy="397.2" r="6.6" fill="#14608c"/><circle cx="225.0" cy="408.5" r="6.6" fill="#14608c"/><circle cx="231.0" cy="423.2" r="6.6" fill="#14608c"/><circle cx="203.9" cy="441.8" r="5.1" fill="#14608c" opacity="0.7"/><circle cx="188.0" cy="447.6" r="5.1" fill="#14608c" opacity="0.7"/><circle cx="175.2" cy="436.7" r="5.1" fill="#14608c" opacity="0.7"/><circle cx="178.1" cy="420.2" r="5.1" fill="#14608c" opacity="0.7"/><circle cx="194.0" cy="414.4" r="5.1" fill="#14608c" opacity="0.7"/><circle cx="206.8" cy="425.3" r="5.1" fill="#14608c" opacity="0.7"/></g>
<g opacity="0.75" filter="url(#b4)"><circle cx="289" cy="422" r="25.6" fill="#0b4569" opacity="0.55"/><circle cx="289" cy="422" r="16.7" fill="#06314d"/><circle cx="310.5" cy="424.2" r="3.5" fill="#14608c"/><circle cx="306.5" cy="434.6" r="3.5" fill="#14608c"/><circle cx="297.9" cy="441.7" r="3.5" fill="#14608c"/><circle cx="286.8" cy="443.5" r="3.5" fill="#14608c"/><circle cx="276.4" cy="439.5" r="3.5" fill="#14608c"/><circle cx="269.3" cy="430.9" r="3.5" fill="#14608c"/><circle cx="267.5" cy="419.8" r="3.5" fill="#14608c"/><circle cx="271.5" cy="409.4" r="3.5" fill="#14608c"/><circle cx="280.1" cy="402.3" r="3.5" fill="#14608c"/><circle cx="291.2" cy="400.5" r="3.5" fill="#14608c"/><circle cx="301.6" cy="404.5" r="3.5" fill="#14608c"/><circle cx="308.7" cy="413.1" r="3.5" fill="#14608c"/><circle cx="296.4" cy="427.0" r="2.7" fill="#14608c" opacity="0.7"/><circle cx="288.3" cy="430.9" r="2.7" fill="#14608c" opacity="0.7"/><circle cx="281.0" cy="425.9" r="2.7" fill="#14608c" opacity="0.7"/><circle cx="281.6" cy="417.0" r="2.7" fill="#14608c" opacity="0.7"/><circle cx="289.7" cy="413.1" r="2.7" fill="#14608c" opacity="0.7"/><circle cx="297.0" cy="418.1" r="2.7" fill="#14608c" opacity="0.7"/></g>
<circle cx="62" cy="460" r="10" fill="#0e5078" opacity="0.6" filter="url(#b4)"/>
<circle cx="111" cy="464" r="13" fill="#0e5078" opacity="0.6" filter="url(#b4)"/>
<g opacity="0.45" filter="url(#b1)"><circle cx="50" cy="279" r="10.0" fill="#0f5682" opacity="0.35" filter="url(#b3)"/><line x1="57.8" y1="279.0" x2="59.7" y2="279.0" stroke="#2d7fb3" stroke-width="0.90" opacity="0.7"/><circle cx="59.7" cy="279.0" r="0.70" fill="#3f8fc2" opacity="0.7"/><line x1="57.2" y1="282.0" x2="59.0" y2="282.7" stroke="#2d7fb3" stroke-width="0.90" opacity="0.7"/><circle cx="59.0" cy="282.7" r="0.70" fill="#3f8fc2" opacity="0.7"/><line x1="55.5" y1="284.5" x2="56.9" y2="285.9" stroke="#2d7fb3" stroke-width="0.90" opacity="0.7"/><circle cx="56.9" cy="285.9" r="0.70" fill="#3f8fc2" opacity="0.7"/><line x1="53.0" y1="286.2" x2="53.7" y2="288.0" stroke="#2d7fb3" stroke-width="0.90" opacity="0.7"/><circle cx="53.7" cy="288.0" r="0.70" fill="#3f8fc2" opacity="0.7"/><line x1="50.0" y1="286.8" x2="50.0" y2="288.7" stroke="#2d7fb3" stroke-width="0.90" opacity="0.7"/><circle cx="50.0" cy="288.7" r="0.70" fill="#3f8fc2" opacity="0.7"/><line x1="47.0" y1="286.2" x2="46.3" y2="288.0" stroke="#2d7fb3" stroke-width="0.90" opacity="0.7"/><circle cx="46.3" cy="288.0" r="0.70" fill="#3f8fc2" opacity="0.7"/><line x1="44.5" y1="284.5" x2="43.1" y2="285.9" stroke="#2d7fb3" stroke-width="0.90" opacity="0.7"/><circle cx="43.1" cy="285.9" r="0.70" fill="#3f8fc2" opacity="0.7"/><line x1="42.8" y1="282.0" x2="41.0" y2="282.7" stroke="#2d7fb3" stroke-width="0.90" opacity="0.7"/><circle cx="41.0" cy="282.7" r="0.70" fill="#3f8fc2" opacity="0.7"/><line x1="42.2" y1="279.0" x2="40.3" y2="279.0" stroke="#2d7fb3" stroke-width="0.90" opacity="0.7"/><circle cx="40.3" cy="279.0" r="0.70" fill="#3f8fc2" opacity="0.7"/><line x1="42.8" y1="276.0" x2="41.0" y2="275.3" stroke="#2d7fb3" stroke-width="0.90" opacity="0.7"/><circle cx="41.0" cy="275.3" r="0.70" fill="#3f8fc2" opacity="0.7"/><line x1="44.5" y1="273.5" x2="43.1" y2="272.1" stroke="#2d7fb3" stroke-width="0.90" opacity="0.7"/><circle cx="43.1" cy="272.1" r="0.70" fill="#3f8fc2" opacity="0.7"/><line x1="47.0" y1="271.8" x2="46.3" y2="270.0" stroke="#2d7fb3" stroke-width="0.90" opacity="0.7"/><circle cx="46.3" cy="270.0" r="0.70" fill="#3f8fc2" opacity="0.7"/><line x1="50.0" y1="271.2" x2="50.0" y2="269.3" stroke="#2d7fb3" stroke-width="0.90" opacity="0.7"/><circle cx="50.0" cy="269.3" r="0.70" fill="#3f8fc2" opacity="0.7"/><line x1="53.0" y1="271.8" x2="53.7" y2="270.0" stroke="#2d7fb3" stroke-width="0.90" opacity="0.7"/><circle cx="53.7" cy="270.0" r="0.70" fill="#3f8fc2" opacity="0.7"/><line x1="55.5" y1="273.5" x2="56.9" y2="272.1" stroke="#2d7fb3" stroke-width="0.90" opacity="0.7"/><circle cx="56.9" cy="272.1" r="0.70" fill="#3f8fc2" opacity="0.7"/><line x1="57.2" y1="276.0" x2="59.0" y2="275.3" stroke="#2d7fb3" stroke-width="0.90" opacity="0.7"/><circle cx="59.0" cy="275.3" r="0.70" fill="#3f8fc2" opacity="0.7"/><circle cx="50" cy="279" r="8.0" fill="#052c47"/><circle cx="50" cy="279" r="5.0" fill="#0c4c74"/><circle cx="56.6" cy="280.3" r="0.80" fill="#3f8fc2"/><circle cx="55.6" cy="282.7" r="0.80" fill="#3f8fc2"/><circle cx="53.7" cy="284.6" r="0.80" fill="#3f8fc2"/><circle cx="51.3" cy="285.6" r="0.80" fill="#3f8fc2"/><circle cx="48.7" cy="285.6" r="0.80" fill="#3f8fc2"/><circle cx="46.3" cy="284.6" r="0.80" fill="#3f8fc2"/><circle cx="44.4" cy="282.7" r="0.80" fill="#3f8fc2"/><circle cx="43.4" cy="280.3" r="0.80" fill="#3f8fc2"/><circle cx="43.4" cy="277.7" r="0.80" fill="#3f8fc2"/><circle cx="44.4" cy="275.3" r="0.80" fill="#3f8fc2"/><circle cx="46.3" cy="273.4" r="0.80" fill="#3f8fc2"/><circle cx="48.7" cy="272.4" r="0.80" fill="#3f8fc2"/><circle cx="51.3" cy="272.4" r="0.80" fill="#3f8fc2"/><circle cx="53.7" cy="273.4" r="0.80" fill="#3f8fc2"/><circle cx="55.6" cy="275.3" r="0.80" fill="#3f8fc2"/><circle cx="56.6" cy="277.7" r="0.80" fill="#3f8fc2"/><circle cx="52.6" cy="280.1" r="0.70" fill="#3f8fc2" opacity="0.6"/><circle cx="50.3" cy="281.8" r="0.70" fill="#3f8fc2" opacity="0.6"/><circle cx="47.8" cy="280.7" r="0.70" fill="#3f8fc2" opacity="0.6"/><circle cx="47.4" cy="277.9" r="0.70" fill="#3f8fc2" opacity="0.6"/><circle cx="49.7" cy="276.2" r="0.70" fill="#3f8fc2" opacity="0.6"/><circle cx="52.2" cy="277.3" r="0.70" fill="#3f8fc2" opacity="0.6"/></g></svg>
<div class="title"><div>DATI UFFICIALI DELL’UNITÀ DI CRISI DELLA REGIONE CAMPANIA</div><div>21 MAGGIO 2021</div><div>GRUPPO TELENUOVA</div></div>
<div class="f hd" style="left:55px;top:125.5px;width:300.8px;height:21.60px"></div>
<div class="f ct" style="left:55px;top:147.10px;width:203.39999999999998px;height:261.50px"></div>
<div class="f nm" style="left:258.4px;top:147.10px;width:97.40000000000003px;height:261.50px"></div>
<div class="l lc" style="left:55px;top:146.10px;width:203.39999999999998px"></div>
<div class="l ln" style="left:258.4px;top:146.10px;width:97.40000000000003px"></div>
<div class="l lc" style="left:55px;top:172.27px;width:203.39999999999998px"></div>
<div class="l ln" style="left:258.4px;top:172.27px;width:97.40000000000003px"></div>
<div class="l lc" style="left:55px;top:198.44px;width:203.39999999999998px"></div>
<div class="l ln" style="left:258.4px;top:198.44px;width:97.40000000000003px"></div>
<div class="l lc" style="left:55px;top:224.61px;width:203.39999999999998px"></div>
<div class="l ln" style="left:258.4px;top:224.61px;width:97.40000000000003px"></div>
<div class="l lc" style="left:55px;top:250.78px;width:203.39999999999998px"></div>
<div class="l ln" style="left:258.4px;top:250.78px;width:97.40000000000003px"></div>
<div class="l lc" style="left:55px;top:276.95px;width:203.39999999999998px"></div>
<div class="l ln" style="left:258.4px;top:276.95px;width:97.40000000000003px"></div>
<div class="l lc" style="left:55px;top:303.12px;width:203.39999999999998px"></div>
<div class="l ln" style="left:258.4px;top:303.12px;width:97.40000000000003px"></div>
<div class="l lc" style="left:55px;top:329.29px;width:203.39999999999998px"></div>
<div class="l ln" style="left:258.4px;top:329.29px;width:97.40000000000003px"></div>
<div class="l lc" style="left:55px;top:355.46px;width:203.39999999999998px"></div>
<div class="l ln" style="left:258.4px;top:355.46px;width:97.40000000000003px"></div>
<div class="l lc" style="left:55px;top:381.63px;width:203.39999999999998px"></div>
<div class="l ln" style="left:258.4px;top:381.63px;width:97.40000000000003px"></div>
<div class="v" style="left:257.9px;top:125.5px;height:283.10px"></div>
<div class="h" style="left:96.5px;top:125.5px;width:120px">CITTÀ</div>
<div class="h" style="left:249.5px;top:125.5px;width:120px">POSITIVI</div>
<div class="c" style="left:58.0px;top:146.60px">ANGRI</div>
<div class="n" style="left:269.5px;top:146.60px">6</div>
<div class="c" style="left:58.0px;top:172.77px">BARONISSI</div>
<div class="n" style="left:269.5px;top:172.77px">0</div>
<div class="c" style="left:58.0px;top:198.94px">CASTEL SAN GIORGIO</div>
<div class="n" style="left:269.5px;top:198.94px">0</div>
<div class="c" style="left:58.0px;top:225.11px">CAVA DE’ TIRRENI</div>
<div class="n" style="left:269.5px;top:225.11px">11</div>
<div class="c" style="left:58.0px;top:251.28px">CORBARA</div>
<div class="n" style="left:269.5px;top:251.28px">0</div>
<div class="c" style="left:58.0px;top:277.45px">FISCIANO</div>
<div class="n" style="left:269.5px;top:277.45px">0</div>
<div class="c" style="left:58.0px;top:303.62px">MERCATO SAN SEVERINO</div>
<div class="n" style="left:269.5px;top:303.62px">1</div>
<div class="c" style="left:58.0px;top:329.79px">NOCERA INFERIORE</div>
<div class="n" style="left:269.5px;top:329.79px">6</div>
<div class="c" style="left:58.0px;top:355.96px">NOCERA SUPERIORE</div>
<div class="n" style="left:269.5px;top:355.96px">1</div>
<div class="c" style="left:58.0px;top:382.13px">PAGANI</div>
<div class="n" style="left:269.5px;top:382.13px">12</div>
<div class="f hd" style="left:372px;top:125.5px;width:301.20000000000005px;height:21.60px"></div>
<div class="f ct" style="left:372px;top:147.10px;width:202.79999999999995px;height:261.50px"></div>
<div class="f nm" style="left:574.8px;top:147.10px;width:98.40000000000009px;height:261.50px"></div>
<div class="l lc" style="left:372px;top:146.10px;width:202.79999999999995px"></div>
<div class="l ln" style="left:574.8px;top:146.10px;width:98.40000000000009px"></div>
<div class="l lc" style="left:372px;top:172.27px;width:202.79999999999995px"></div>
<div class="l ln" style="left:574.8px;top:172.27px;width:98.40000000000009px"></div>
<div class="l lc" style="left:372px;top:198.44px;width:202.79999999999995px"></div>
<div class="l ln" style="left:574.8px;top:198.44px;width:98.40000000000009px"></div>
<div class="l lc" style="left:372px;top:224.61px;width:202.79999999999995px"></div>
<div class="l ln" style="left:574.8px;top:224.61px;width:98.40000000000009px"></div>
<div class="l lc" style="left:372px;top:250.78px;width:202.79999999999995px"></div>
<div class="l ln" style="left:574.8px;top:250.78px;width:98.40000000000009px"></div>
<div class="l lc" style="left:372px;top:276.95px;width:202.79999999999995px"></div>
<div class="l ln" style="left:574.8px;top:276.95px;width:98.40000000000009px"></div>
<div class="l lc" style="left:372px;top:303.12px;width:202.79999999999995px"></div>
<div class="l ln" style="left:574.8px;top:303.12px;width:98.40000000000009px"></div>
<div class="l lc" style="left:372px;top:329.29px;width:202.79999999999995px"></div>
<div class="l ln" style="left:574.8px;top:329.29px;width:98.40000000000009px"></div>
<div class="l lc" style="left:372px;top:355.46px;width:202.79999999999995px"></div>
<div class="l ln" style="left:574.8px;top:355.46px;width:98.40000000000009px"></div>
<div class="l lc" style="left:372px;top:381.63px;width:202.79999999999995px"></div>
<div class="l ln" style="left:574.8px;top:381.63px;width:98.40000000000009px"></div>
<div class="v" style="left:574.3px;top:125.5px;height:283.10px"></div>
<div class="h" style="left:413.5px;top:125.5px;width:120px">CITTÀ</div>
<div class="h" style="left:566.7px;top:125.5px;width:120px">POSITIVI</div>
<div class="c" style="left:374.7px;top:146.60px">SALERNO</div>
<div class="n" style="left:586.7px;top:146.60px">10</div>
<div class="c" style="left:374.7px;top:172.77px">ROCCAPIEMONTE</div>
<div class="n" style="left:586.7px;top:172.77px">0</div>
<div class="c" style="left:374.7px;top:198.94px">S.EGIDIO DEL M. ALBINO</div>
<div class="n" style="left:586.7px;top:198.94px">0</div>
<div class="c" style="left:374.7px;top:225.11px">SARNO</div>
<div class="n" style="left:586.7px;top:225.11px">1</div>
<div class="c" style="left:374.7px;top:251.28px">S. MARZANO SUL SARNO</div>
<div class="n" style="left:586.7px;top:251.28px">0</div>
<div class="c" style="left:374.7px;top:277.45px">SCAFATI</div>
<div class="n" style="left:586.7px;top:277.45px">15</div>
<div class="c" style="left:374.7px;top:303.62px">BRACIGLIANO</div>
<div class="n" style="left:586.7px;top:303.62px">0</div>
<div class="c" style="left:374.7px;top:329.79px">SAN VALENTINO TORIO</div>
<div class="n" style="left:586.7px;top:329.79px">1</div>
<div class="c" style="left:374.7px;top:355.96px">SIANO</div>
<div class="n" style="left:586.7px;top:355.96px">0</div>
<div class="c" style="left:374.7px;top:382.13px">TRAMONTI</div>
<div class="n" style="left:586.7px;top:382.13px">0</div>
</body></html>
